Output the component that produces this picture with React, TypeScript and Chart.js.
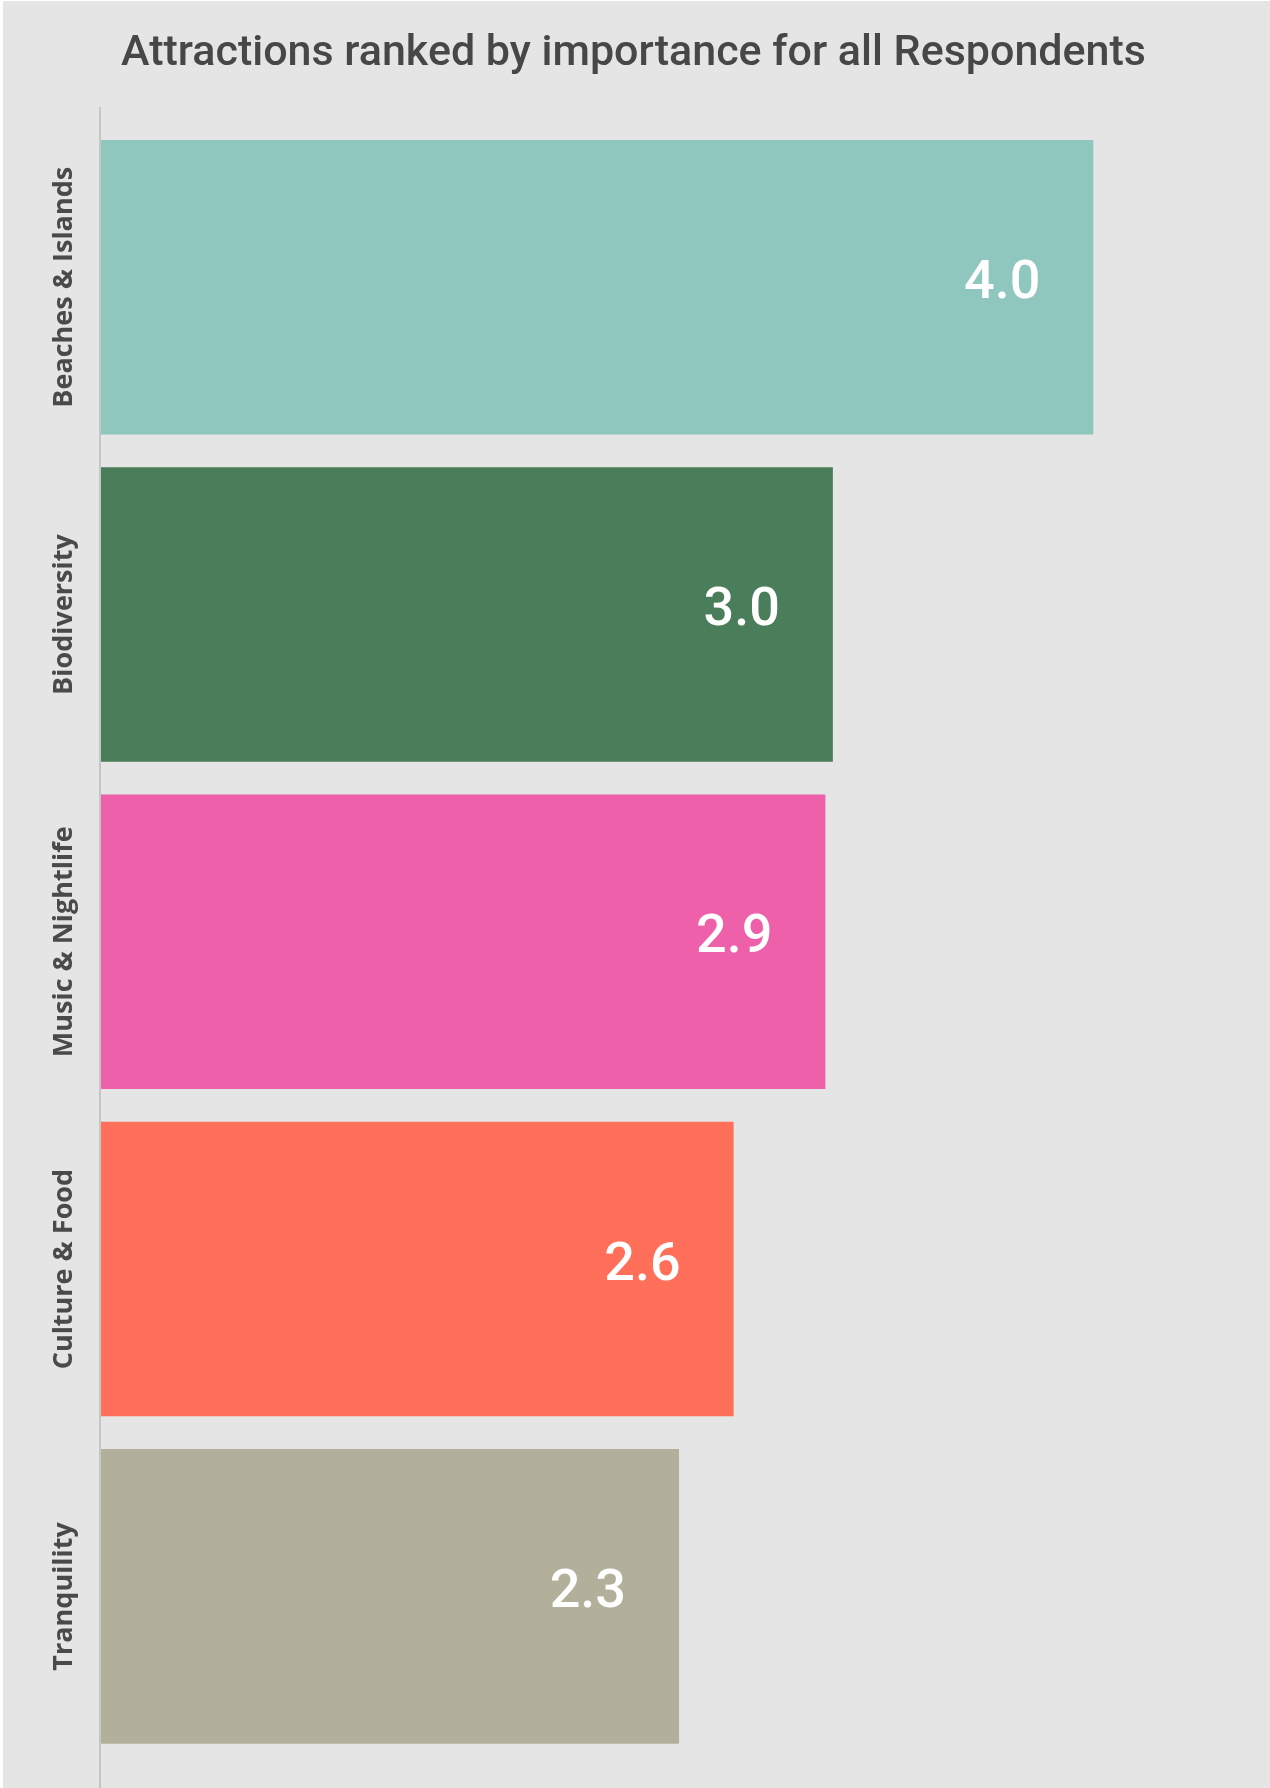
import React, { useEffect, useRef } from "react";
import { Chart, registerables } from "chart.js";

Chart.register(...registerables);

const TITLE = "Attractions ranked by importance for all Respondents";
const categories = ["Beaches & Islands", "Biodiversity", "Music & Nightlife", "Culture & Food", "Tranquility"];
const values = [4.0, 2.95, 2.92, 2.55, 2.33];
const valueLabels = ["4.0", "3.0", "2.9", "2.6", "2.3"];
const barColors = ["#8fc6bd", "#4a7d5a", "#ee60aa", "#ff6f5a", "#b2b09b"];
const xMax = 4.7;

const W = 1270;
const H = 1788;

export default function App() {
  const ref = useRef<HTMLCanvasElement | null>(null);

  useEffect(() => {
    document.body.style.margin = "0";
    const canvas = ref.current;
    if (!canvas) return;

    const bgPlugin = {
      id: "bg",
      beforeDraw(chart: any) {
        const ctx = chart.ctx;
        ctx.save();
        ctx.fillStyle = "#ffffff";
        ctx.fillRect(0, 0, chart.width, chart.height);
        ctx.fillStyle = "#e5e5e5";
        ctx.fillRect(3, 1, chart.width - 3, chart.height - 1);
        ctx.restore();
      },
    };

    const decoPlugin = {
      id: "deco",
      afterDatasetsDraw(chart: any) {
        const ctx = chart.ctx;
        const area = chart.chartArea;
        const yScale = chart.scales.y;
        ctx.save();
        // axis line
        ctx.strokeStyle = "#c6c6c6";
        ctx.lineWidth = 2;
        ctx.beginPath();
        ctx.moveTo(area.left - 1, 107);
        ctx.lineTo(area.left - 1, chart.height);
        ctx.stroke();

        // category labels, rotated
        ctx.fillStyle = "#4a4a4a";
        ctx.font = "bold 27px 'Open Sans'";
        ctx.textAlign = "center";
        ctx.textBaseline = "alphabetic";
        categories.forEach((c, i) => {
          const y = yScale.getPixelForValue(i);
          ctx.save();
          ctx.translate(72, y);
          ctx.rotate(-Math.PI / 2);
          ctx.fillText(c, 0, 0);
          ctx.restore();
        });

        // value labels
        const meta = chart.getDatasetMeta(0);
        ctx.fillStyle = "#ffffff";
        ctx.font = "500 54px Roboto";
        ctx.textAlign = "right";
        ctx.textBaseline = "middle";
        meta.data.forEach((bar: any, i: number) => {
          ctx.fillText(valueLabels[i], bar.x - 53, bar.y - 3);
        });
        ctx.restore();
      },
    };

    const chart = new Chart(canvas, {
      type: "bar",
      data: {
        labels: categories,
        datasets: [
          {
            data: values,
            backgroundColor: barColors,
            borderWidth: 0,
            categoryPercentage: 1,
            barPercentage: 0.9,
          },
        ],
      },
      options: {
        indexAxis: "y",
        responsive: false,
        animation: false,
        devicePixelRatio: 1,
        layout: { padding: { top: 0, bottom: 28, left: 0, right: 3 } },
        plugins: {
          legend: { display: false },
          tooltip: { enabled: false },
          title: {
            display: true,
            text: TITLE,
            color: "#474747",
            font: { family: "Roboto", size: 43, weight: "500" },
            padding: { top: 28, bottom: 44 },
          },
        },
        scales: {
          x: { display: false, min: 0, max: xMax },
          y: {
            display: true,
            grid: { display: false },
            border: { display: false },
            ticks: { display: false },
            afterFit(scale: any) {
              scale.width = 101;
            },
          },
        },
      },
      plugins: [bgPlugin, decoPlugin],
    });

    return () => chart.destroy();
  }, []);

  return (
    <div style={{ width: W, height: H }}>
      <canvas ref={ref} width={W} height={H} style={{ width: W, height: H, display: "block" }} />
    </div>
  );
}
